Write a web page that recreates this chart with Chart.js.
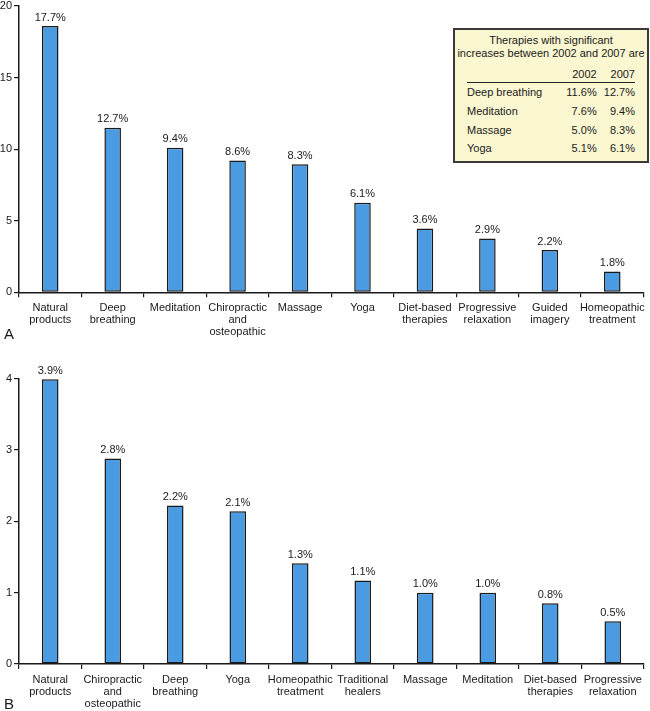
<!DOCTYPE html>
<html>
<head>
<meta charset="utf-8">
<script src="https://cdn.jsdelivr.net/npm/chart.js@4.4.1/dist/chart.umd.min.js"></script>
<style>
  body { margin: 0; background: #fff; font-family: "Liberation Sans", Arial, sans-serif; color: #1a1a1a; }
  #page { position: relative; width: 650px; height: 711px; overflow: hidden; }
  canvas { position: absolute; left: 0; }
  .panel { position: absolute; left: 4px; font-size: 15px; line-height: 15px; }
  #inset {
    position: absolute; left: 453px; top: 28px; width: 192px; height: 131px;
    background: #fbf7d1; border: 2px solid #3a3a3a; font-size: 11px;
  }
  #inset .title { text-align: center; line-height: 12.7px; margin-top: 4px; }
  #inset table { position: absolute; left: 12px; top: 37px; width: 168px; border-collapse: collapse; }
  #inset th { font-weight: normal; text-align: right; padding: 0 0 1px 0; height: 14px; border-bottom: 1.5px solid #222; }
  #inset td { text-align: right; padding: 0; height: 18.7px; }
  #inset td:first-child { text-align: left; }
</style>
</head>
<body>
<div id="page">
  <canvas id="chartA" width="650" height="350" style="top:0"></canvas>
  <canvas id="chartB" width="650" height="356" style="top:355px"></canvas>
  <div class="panel" style="top:326px">A</div>
  <div class="panel" style="top:696px">B</div>
  <div id="inset">
    <div class="title">Therapies with significant<br>increases between 2002 and 2007 are</div>
    <table id="insetTable"></table>
  </div>
</div>
<script>
// Panel A: most common therapies, 2007 (adults)
var categoriesA = [['Natural', 'products'], ['Deep', 'breathing'], ['Meditation'], ['Chiropractic', 'and', 'osteopathic'],
  ['Massage'], ['Yoga'], ['Diet-based', 'therapies'], ['Progressive', 'relaxation'], ['Guided', 'imagery'], ['Homeopathic', 'treatment']];
var valuesA = [18.6, 11.5, 10.1, 9.2, 8.95, 6.25, 4.45, 3.75, 2.95, 1.45];
var barLabelsA = ['17.7%', '12.7%', '9.4%', '8.6%', '8.3%', '6.1%', '3.6%', '2.9%', '2.2%', '1.8%'];
var ticksA = [0, 5, 10, 15, 20];

// Panel B: most common therapies, 2007 (children)
var categoriesB = [['Natural', 'products'], ['Chiropractic', 'and', 'osteopathic'], ['Deep', 'breathing'], ['Yoga'],
  ['Homeopathic', 'treatment'], ['Traditional', 'healers'], ['Massage'], ['Meditation'], ['Diet-based', 'therapies'], ['Progressive', 'relaxation']];
var valuesB = [3.99, 2.88, 2.22, 2.14, 1.41, 1.17, 1.0, 1.0, 0.85, 0.6];
var barLabelsB = ['3.9%', '2.8%', '2.2%', '2.1%', '1.3%', '1.1%', '1.0%', '1.0%', '0.8%', '0.5%'];
var ticksB = [0, 1, 2, 3, 4];

// Inset table in panel A
var insetTherapies = ['Deep breathing', 'Meditation', 'Massage', 'Yoga'];
var insetYears = ['2002', '2007'];
var inset2002 = ['11.6%', '7.6%', '5.0%', '5.1%'];
var inset2007 = ['12.7%', '9.4%', '8.3%', '6.1%'];

var table = document.getElementById('insetTable');
var html = '<tr><th style="text-align:left"></th><th>' + insetYears[0] + '</th><th>' + insetYears[1] + '</th></tr>';
insetTherapies.forEach(function (name, i) {
  html += '<tr><td>' + name + '</td><td>' + inset2002[i] + '</td><td>' + inset2007[i] + '</td></tr>';
});
table.innerHTML = html;

var ink = '#1a1a1a';
var font = { family: '"Liberation Sans", Arial, sans-serif', size: 11, lineHeight: 1.08 };

// Draws the percent label above every bar
var barLabelPlugin = {
  id: 'barLabels',
  afterDatasetsDraw: function (chart) {
    var ctx = chart.ctx;
    var labels = chart.options.plugins.barLabels.labels;
    var meta = chart.getDatasetMeta(0);
    ctx.save();
    ctx.fillStyle = ink;
    ctx.font = '11px "Liberation Sans", Arial, sans-serif';
    ctx.textAlign = 'center';
    ctx.textBaseline = 'bottom';
    meta.data.forEach(function (bar, i) {
      ctx.fillText(labels[i], bar.x, bar.y - 3);
    });
    ctx.restore();
  }
};

function makeChart(id, categories, values, barLabels, ticks, xHeight, padTop) {
  var ctx = document.getElementById(id).getContext('2d');
  return new Chart(ctx, {
    type: 'bar',
    data: {
      labels: categories,
      datasets: [{
        data: values,
        backgroundColor: '#4a9be2',
        borderColor: '#1a1a1a',
        borderWidth: 1.5,
        borderSkipped: false,
        categoryPercentage: 1,
        barPercentage: 0.265
      }]
    },
    options: {
      responsive: false,
      animation: false,
      devicePixelRatio: 1,
      layout: { padding: { top: padTop, right: 6, left: 0, bottom: 0 } },
      plugins: {
        legend: { display: false },
        tooltip: { enabled: false },
        barLabels: { labels: barLabels }
      },
      scales: {
        x: {
          grid: { drawOnChartArea: false, drawTicks: true, tickLength: 5, color: ink, lineWidth: 1.2 },
          border: { color: ink, width: 1.5 },
          ticks: { color: ink, font: font, padding: 5, maxRotation: 0, autoSkip: false },
          afterFit: function (scale) { scale.height = xHeight; }
        },
        y: {
          min: ticks[0],
          max: ticks[ticks.length - 1],
          afterBuildTicks: function (scale) {
            scale.ticks = ticks.map(function (v) { return { value: v }; });
          },
          grid: { drawOnChartArea: false, drawTicks: true, tickLength: 5, color: ink, lineWidth: 1.2 },
          border: { color: ink, width: 1.5 },
          ticks: { color: ink, font: { family: font.family, size: 11, lineHeight: 1 }, padding: 2 },
          afterFit: function (scale) {
            scale.width = 19;
            scale.paddingTop = 0;
            scale.paddingBottom = 0;
          }
        }
      }
    },
    plugins: [barLabelPlugin]
  });
}

makeChart('chartA', categoriesA, valuesA, barLabelsA, ticksA, 57.7, 6);
makeChart('chartB', categoriesB, valuesB, barLabelsB, ticksB, 47, 23.5);
</script>
</body>
</html>
